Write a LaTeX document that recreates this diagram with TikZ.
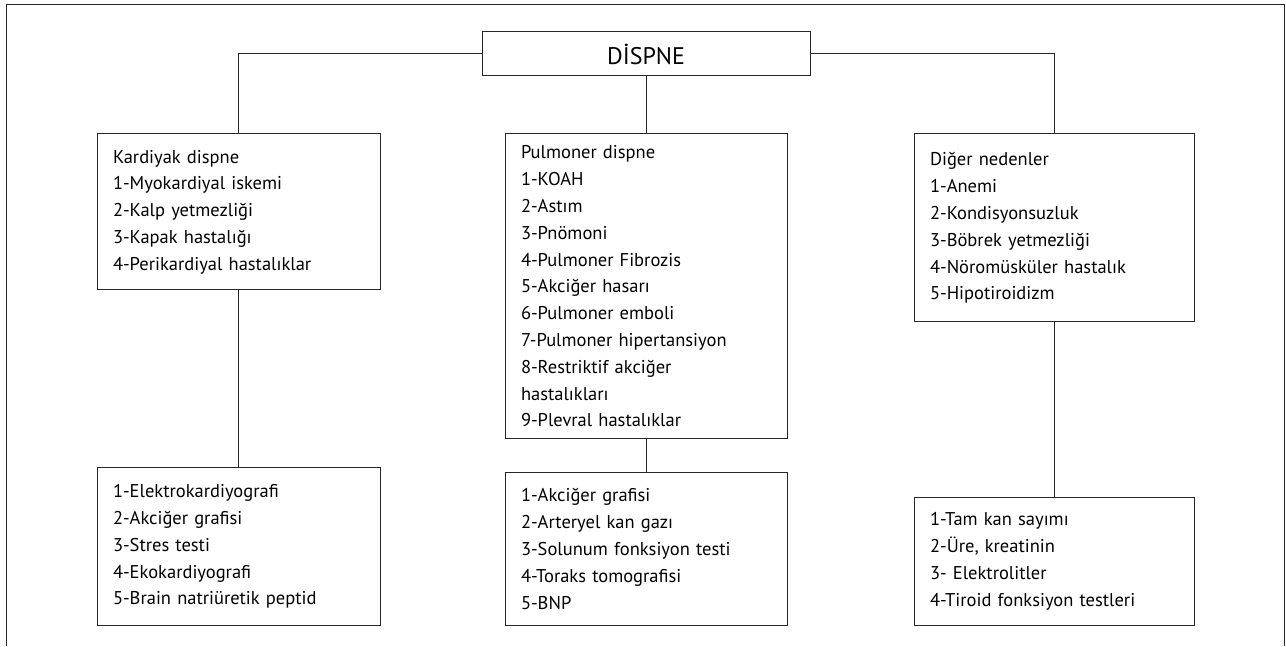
\documentclass[tikz,border=0pt]{standalone}
\usepackage{fontspec}
\setmainfont{PT Sans}
\usepackage{tikz}
\usepackage{xcolor}
\definecolor{cizgi}{gray}{0.15}

\begin{document}
\begin{tikzpicture}[x=1pt,y=1pt,
    kutu/.style={draw=cizgi, line width=1pt, align=left, inner xsep=16pt, inner ysep=0pt,
        font=\fontsize{18.5}{26.8}\selectfont},
    baglanti/.style={draw=cizgi, line width=1pt}]
            \useasboundingbox (0,0) rectangle (1286,646);
            \draw[baglanti] (6,0) -- (6,641) -- (1284,641) -- (1284,0);

            \node[draw=cizgi, line width=1pt, minimum width=328pt, minimum height=44pt,
                font=\fontsize{24}{26}\selectfont] (dispne) at (646,592) {D\.ISPNE};

            \node[kutu, text width=251pt, minimum height=156pt] (kard) at (238.5,434)
                {Kardiyak dispne\\1-Myokardiyal iskemi\\2-Kalp yetmezliği\\3-Kapak hastalığı\\4-Perikardiyal hastalıklar};
            \node[kutu, text width=250pt, minimum height=305pt] (pulm) at (646,359.5)
                {Pulmoner dispne\\1-KOAH\\2-Astım\\3-Pnömoni\\4-Pulmoner Fibrozis\\5-Akciğer hasarı\\6-Pulmoner emboli\\7-Pulmoner hipertansiyon\\8-Restriktif akciğer\\hastalıkları\\9-Plevral hastalıklar};
            \node[kutu, text width=248pt, minimum height=188pt] (diger) at (1054,418)
                {Diğer nedenler\\1-Anemi\\2-Kondisyonsuzluk\\3-Böbrek yetmezliği\\4-Nöromüsküler hastalık\\5-Hipotiroidizm};

            \node[kutu, text width=251pt, minimum height=157pt] (kardtest) at (238.5,99.5)
                {1-Elektrokardiyografi\\2-Akciğer grafisi\\3-Stres testi\\4-Ekokardiyografi\\5-Brain natriüretik peptid};
            \node[kutu, text width=250pt, minimum height=152pt] (pulmtest) at (646,97)
                {1-Akciğer grafisi\\2-Arteryel kan gazı\\3-Solunum fonksiyon testi\\4-Toraks tomografisi\\5-BNP};
            \node[kutu, text width=248pt, minimum height=127pt] (digertest) at (1054,84.5)
                {1-Tam kan sayımı\\2-Üre, kreatinin\\3- Elektrolitler\\4-Tiroid fonksiyon testleri};

            \draw[baglanti] (dispne.west) -| (kard.north);
            \draw[baglanti] (dispne.south) -- (pulm.north);
            \draw[baglanti] (dispne.east) -| (diger.north);

            \draw[baglanti] (kard.south) -- (kardtest.north);
            \draw[baglanti] (pulm.south) -- (pulmtest.north);
            \draw[baglanti] (diger.south) -- (digertest.north);
        \end{tikzpicture}
\end{document}
